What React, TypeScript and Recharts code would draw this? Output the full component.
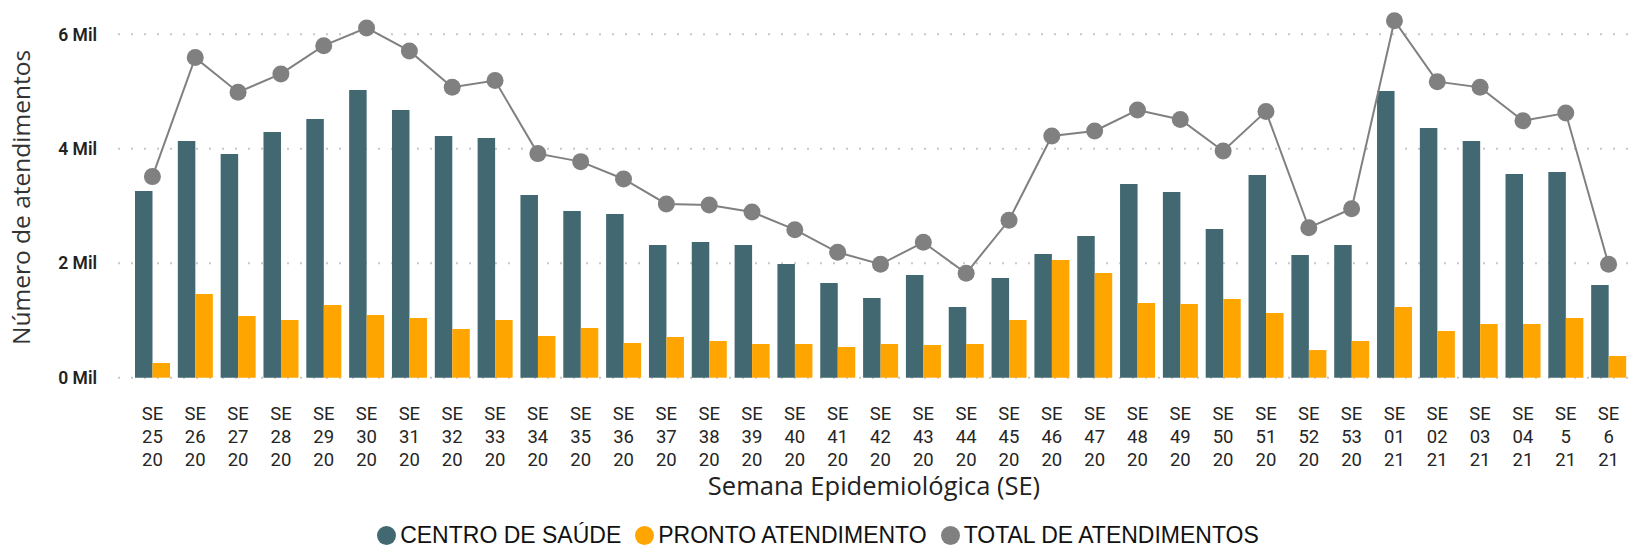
import React from "react";
import {
  ComposedChart,
  Bar,
  Line,
  XAxis,
  YAxis,
  CartesianGrid,
  Legend,
  Label,
} from "recharts";

const weeks = [
  "25", "26", "27", "28", "29", "30", "31", "32", "33", "34", "35", "36", "37", "38", "39",
  "40", "41", "42", "43", "44", "45", "46", "47", "48", "49", "50", "51", "52", "53",
  "01", "02", "03", "04", "5", "6",
];
const years = [
  "20", "20", "20", "20", "20", "20", "20", "20", "20", "20", "20", "20", "20", "20", "20",
  "20", "20", "20", "20", "20", "20", "20", "20", "20", "20", "20", "20", "20", "20",
  "21", "21", "21", "21", "21", "21",
];
const centroDeSaude = [
  3264, 4137, 3910, 4295, 4522, 5029, 4679, 4225, 4190, 3194, 2914, 2861, 2320, 2372, 2320,
  1987, 1655, 1393, 1795, 1236, 1743, 2162, 2477, 3386, 3245, 2598, 3542, 2144, 2318,
  5010, 4363, 4136, 3559, 3594, 1619,
];
const prontoAtendimento = [
  257, 1463, 1078, 1009, 1271, 1096, 1044, 851, 1009, 729, 869, 607, 711, 641, 589,
  589, 537, 589, 572, 589, 1009, 2057, 1830, 1306, 1287, 1375, 1130, 483, 641,
  1235, 816, 938, 938, 1043, 379,
];
const totalAtendimentos = [
  3514, 5594, 4989, 5309, 5803, 6113, 5711, 5076, 5192, 3916, 3776, 3473, 3036, 3019, 2896,
  2587, 2192, 1982, 2366, 1825, 2751, 4225, 4312, 4677, 4514, 3961, 4654, 2621, 2953,
  6239, 5173, 5074, 4491, 4625, 1981,
];
const yTicks = [0, 2000, 4000, 6000];

const SERIES = [
  { key: "cs", name: "CENTRO DE SAÚDE", color: "#426872" },
  { key: "pa", name: "PRONTO ATENDIMENTO", color: "#FFA500" },
  { key: "total", name: "TOTAL DE ATENDIMENTOS", color: "#808080" },
];

const data = weeks.map((w, i) => ({
  label: `SE|${w}|${years[i]}`,
  cs: centroDeSaude[i],
  pa: prontoAtendimento[i],
  total: totalAtendimentos[i],
}));

const XTick = (props: any) => {
  const { x, y, payload } = props;
  const lines = String(payload.value).split("|");
  return (
    <g>
      {lines.map((t: string, i: number) => (
        <text
          key={i}
          x={x}
          y={y + 42 + i * 23}
          textAnchor="middle"
          fill="#252525"
          fontSize={18.5}
          fontFamily="Roboto, sans-serif"
        >
          {t}
        </text>
      ))}
    </g>
  );
};

const LegendContent = () => (
  <div
    style={{
      display: "flex",
      justifyContent: "center",
      alignItems: "center",
      fontFamily: "'Liberation Sans', Arial, sans-serif",
      fontSize: 23,
      lineHeight: "20px",
      height: 20,
      color: "#111",
      whiteSpace: "nowrap",
    }}
  >
    {SERIES.map((s, i) => (
      <div
        key={s.key}
        style={{ display: "flex", alignItems: "center", marginLeft: i === 0 ? 0 : 14 }}
      >
        <span
          style={{
            display: "inline-block",
            width: 19,
            height: 19,
            borderRadius: 10,
            background: s.color,
            marginRight: 4,
          }}
        />
        <span>{s.name}</span>
      </div>
    ))}
  </div>
);

const gridYs = (props: any) => {
  const scale = props && props.yAxis && props.yAxis.scale;
  if (scale && typeof scale === "function") return yTicks.map((t) => scale(t));
  if (scale && typeof scale.map === "function") return yTicks.map((t) => scale.map(t));
  const off = props.offset;
  return yTicks.map((t) => off.top + off.height * (1 - t / 6300));
};

export default function App() {
  return (
    <div style={{ position: "absolute", left: 0, top: 0, width: 1636, height: 549, background: "#fff" }}>
      <ComposedChart
        width={1636}
        height={549}
        data={data}
        margin={{ top: 17.2, right: 6, bottom: 0, left: 0 }}
        barGap={0}
      >
        <CartesianGrid
          vertical={false}
          stroke="#c8c8c8"
          strokeWidth={2}
          strokeDasharray="2 11"
          horizontalCoordinatesGenerator={gridYs}
        />
        <XAxis
          dataKey="label"
          interval={0}
          axisLine={false}
          tickLine={false}
          tickSize={0}
          tickMargin={0}
          height={171.3}
          padding={{ left: 13, right: 0 }}
          tick={<XTick />}
        >
          <Label
            value="Semana Epidemiológica (SE)"
            position="insideTop"
            offset={99}
            fill="#222"
            fontSize={25.5}
            fontFamily="'Open Sans', sans-serif"
          />
        </XAxis>
        <YAxis
          width={118}
          domain={[0, 6300]}
          ticks={yTicks}
          axisLine={false}
          tickLine={false}
          tickMargin={15}
          tickFormatter={(v: number) => `${v / 1000} Mil`}
          tick={{ fill: "#222", fontSize: 17.5, fontWeight: 600, fontFamily: "Roboto, sans-serif" }}
        >
          <Label
            value="Número de atendimentos"
            angle={-90}
            position="center"
            dx={-38}
            fill="#333"
            fontSize={24.5}
            fontFamily="'Open Sans', sans-serif"
          />
        </YAxis>
        <Bar dataKey="cs" name={SERIES[0].name} fill={SERIES[0].color} barSize={17.5} isAnimationActive={false} />
        <Bar dataKey="pa" name={SERIES[1].name} fill={SERIES[1].color} barSize={17.5} isAnimationActive={false} />
        <Line
          dataKey="total"
          name={SERIES[2].name}
          stroke={SERIES[2].color}
          strokeWidth={2}
          dot={{ r: 8.5, fill: SERIES[2].color, stroke: "none" }}
          activeDot={false}
          isAnimationActive={false}
        />
        <Legend
          layout="horizontal"
          verticalAlign="middle"
          align="center"
          wrapperStyle={{ top: 525, left: 0, width: 1636, height: 20 }}
          content={<LegendContent />}
        />
      </ComposedChart>
    </div>
  );
}
